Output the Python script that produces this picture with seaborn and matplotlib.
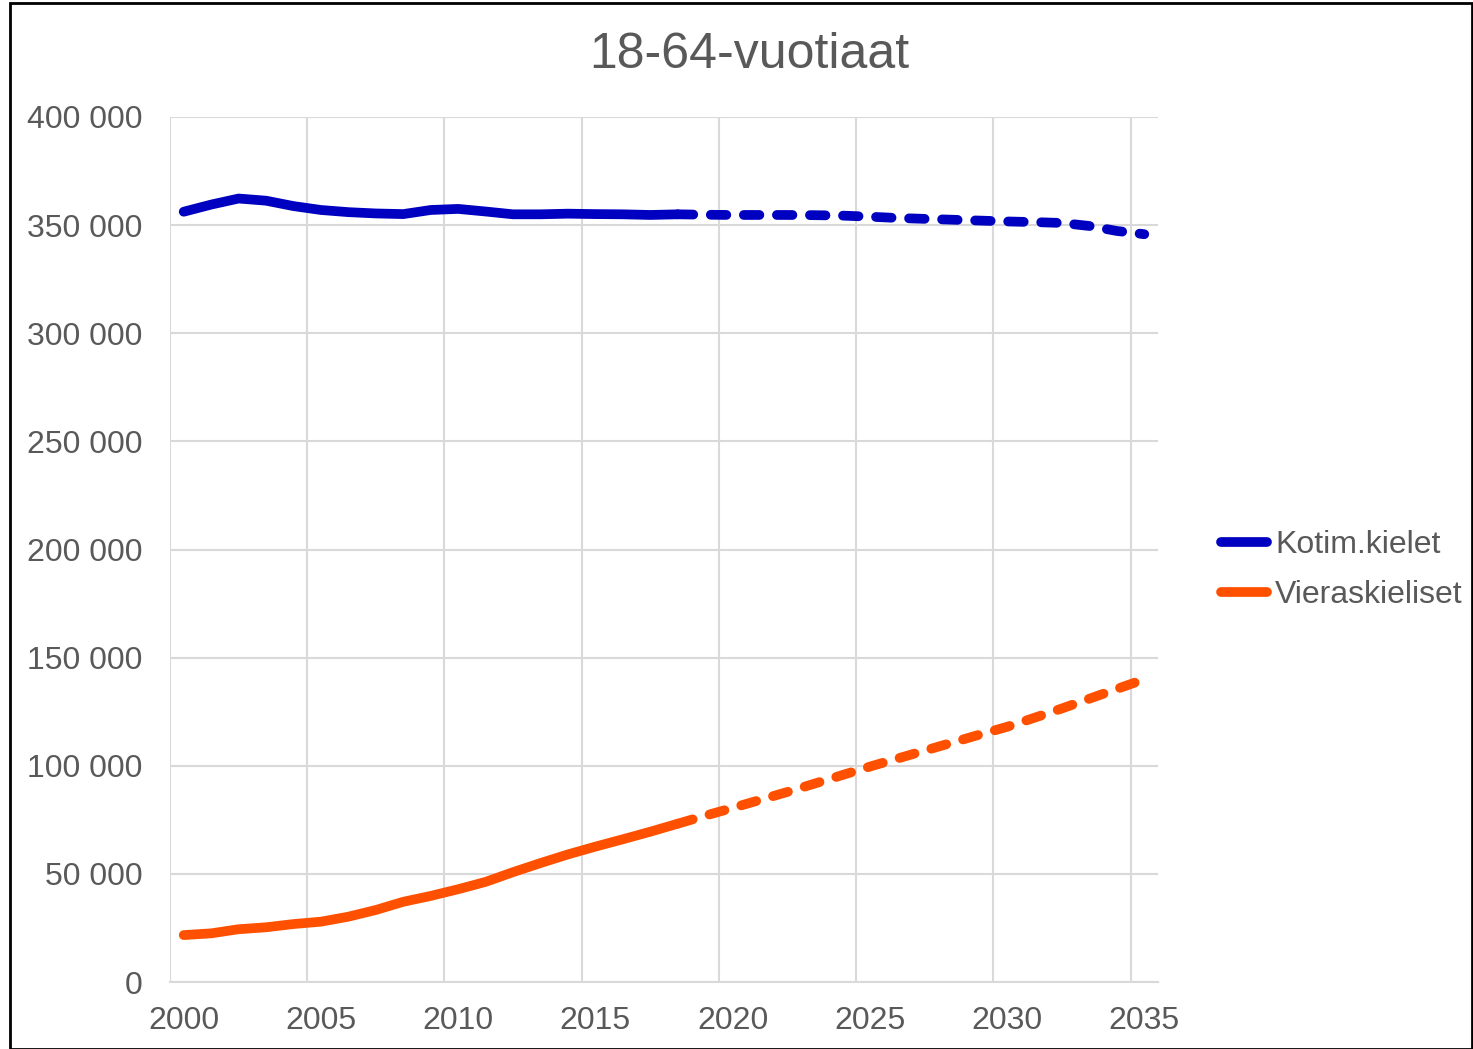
import numpy as np
import pandas as pd
import matplotlib
matplotlib.use("Agg")
import matplotlib.pyplot as plt
import matplotlib.ticker as mticker
from matplotlib.lines import Line2D
from matplotlib.patches import Rectangle
import seaborn as sns

# values
years_hist = list(range(2000, 2019))
kotim_hist = [356200, 359500, 362300, 361300, 358800, 357000, 356000, 355400, 355100,
              357000, 357500, 356300, 355000, 355000, 355300, 355100, 355000, 354700, 355000]
vieras_hist = [21700, 22500, 24400, 25300, 26800, 27900, 30200, 33300, 37100,
               39800, 42900, 46300, 50800, 55000, 59000, 62600, 66000, 69500, 73200]

years_proj = list(range(2018, 2036))
kotim_proj = [355000, 354800, 354700, 354700, 354700, 354600, 354400, 353900, 353300,
              352900, 352500, 352100, 351700, 351400, 351000, 349600, 347300, 345800]
vieras_proj = [73200, 76900, 80500, 84200, 87900, 91800, 95700, 99600, 103300,
               107000, 110700, 114400, 118000, 122200, 126500, 131000, 135500, 140000]

series_names = ["Kotim.kielet", "Vieraskieliset"]
colors = ["#0000c0", "#ff5000"]

df_hist = pd.DataFrame({"year": years_hist * 2,
                        "value": kotim_hist + vieras_hist,
                        "series": [series_names[0]] * len(years_hist) + [series_names[1]] * len(years_hist)})
df_proj = pd.DataFrame({"year": years_proj * 2,
                        "value": kotim_proj + vieras_proj,
                        "series": [series_names[0]] * len(years_proj) + [series_names[1]] * len(years_proj)})

sns.set_style("white")
plt.rcParams["font.family"] = ["Liberation Sans", "DejaVu Sans"]
grey = "#595959"

fig = plt.figure(figsize=(14.73, 10.49), dpi=100)
ax = fig.add_axes([170 / 1473, 1 - 982 / 1049, (1158 - 170) / 1473, (982 - 117) / 1049])

palette = dict(zip(series_names, colors))
lw = 7
sns.lineplot(data=df_hist, x="year", y="value", hue="series", palette=palette,
             linewidth=lw, legend=False, ax=ax, solid_capstyle="round")
sns.lineplot(data=df_proj, x="year", y="value", hue="series", palette=palette,
             linewidth=lw, legend=False, ax=ax)
for line in ax.lines[2:]:
    line.set_dashes((1.6, 1.8))
    line.set_dash_capstyle("round")

ax.set_xlim(1999.5, 2035.5)
ax.set_ylim(0, 400000)
ax.set_xticks(range(2000, 2036, 5))
ax.set_xticks(np.arange(1999.5, 2035, 5), minor=True)
ax.set_yticks(range(0, 400001, 50000))
ax.yaxis.set_major_formatter(mticker.FuncFormatter(lambda v, p: f"{int(v):,}".replace(",", " ")))
ax.grid(False)
ax.grid(True, which="minor", axis="x", color="#d9d9d9", linewidth=1.5)
ax.grid(True, which="major", axis="y", color="#d9d9d9", linewidth=1.5)
ax.set_axisbelow(True)
ax.tick_params(axis="both", which="both", length=0, labelsize=23, labelcolor=grey)
ax.tick_params(axis="y", pad=20)
ax.tick_params(axis="x", pad=17)
for s in ["top", "right", "left"]:
    ax.spines[s].set_visible(False)
ax.spines["bottom"].set_color("#d9d9d9")
ax.spines["bottom"].set_linewidth(1.5)
ax.set_xlabel("")
ax.set_ylabel("")

fig.text(0.509, 1 - 55 / 1049, "18-64-vuotiaat", ha="center", va="center",
         fontsize=36, color=grey)

handles = [Line2D([0], [0], color=c, linewidth=lw, solid_capstyle="round") for c in colors]
fig.legend(handles, series_names, loc="center left",
           bbox_to_anchor=(1221 / 1473, 1 - 570 / 1049), frameon=False,
           fontsize=23, labelcolor=grey, handlelength=1.45, handletextpad=0.25,
           labelspacing=0.64, borderaxespad=0, borderpad=0)

fig.patches.append(Rectangle((10 / 1473, 0), 1 - 10 / 1473 - 1 / 1473, 1 - 3 / 1049,
                             transform=fig.transFigure, fill=False,
                             edgecolor="black", linewidth=2))

fig.savefig("out.png", dpi=100)
